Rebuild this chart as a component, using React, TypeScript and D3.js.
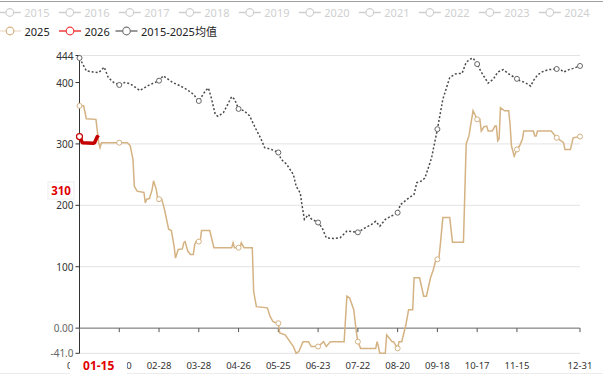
import React from "react";
import * as d3 from "d3";

// ---------- data ----------
const categories: string[] = d3
  .timeDay.range(new Date(2024, 0, 1), new Date(2025, 0, 1))
  .map(d3.timeFormat("%m-%d"));

const xTickLabels = ["01-01", "01-30", "02-28", "03-28", "04-26", "05-25", "06-23", "07-22", "08-20", "09-18", "10-17", "11-15", "12-31"];
const markerDates = ["01-01", "01-30", "02-28", "03-28", "04-26", "05-25", "06-23", "07-22", "08-20", "09-18", "10-17", "11-15", "12-14", "12-31"];
const yTicks = [444, 400, 300, 200, 100, 0, -41];
const yTickLabels = ["444", "400", "300", "200", "100", "0.00", "-41.0"];
const gridValues = [444, 300, 200, 100, -41];

const legendDisabled = ["2015", "2016", "2017", "2018", "2019", "2020", "2021", "2022", "2023", "2024"];
const legendActive = ["2025", "2026", "2015-2025均值"];

type P = [string, number];

const avg: P[] = [
  ["01-01", 440], ["01-06", 419], ["01-11", 417], ["01-15", 416], ["01-19", 425], ["01-22", 408],
  ["01-26", 400], ["01-30", 396], ["02-03", 400], ["02-07", 398], ["02-14", 387], ["02-20", 395],
  ["02-25", 400], ["02-28", 403], ["03-02", 411], ["03-09", 400], ["03-14", 395], ["03-19", 389],
  ["03-24", 381], ["03-28", 370], ["04-02", 387], ["04-04", 391], ["04-06", 376], ["04-09", 348],
  ["04-11", 345], ["04-15", 351], ["04-21", 377], ["04-23", 373], ["04-26", 357], ["04-30", 354],
  ["05-04", 346], ["05-08", 327], ["05-12", 310], ["05-15", 294], ["05-20", 291], ["05-25", 286],
  ["05-27", 275], ["05-31", 267], ["06-05", 250], ["06-07", 231], ["06-10", 220], ["06-11", 204],
  ["06-13", 177], ["06-16", 185], ["06-18", 178], ["06-23", 172], ["06-26", 163], ["06-29", 147],
  ["07-04", 146], ["07-09", 147], ["07-14", 158], ["07-22", 156], ["07-27", 163], ["08-01", 169],
  ["08-04", 174], ["08-07", 166], ["08-11", 177], ["08-15", 182], ["08-20", 188], ["08-22", 201],
  ["08-27", 210], ["09-01", 218], ["09-03", 237], ["09-07", 240], ["09-09", 245], ["09-13", 272],
  ["09-14", 280], ["09-18", 324], ["09-22", 373], ["09-27", 408], ["10-01", 414], ["10-06", 415],
  ["10-09", 433], ["10-12", 438], ["10-14", 440], ["10-17", 430], ["10-20", 417], ["10-25", 399],
  ["10-29", 406], ["11-01", 417], ["11-05", 421], ["11-09", 414], ["11-15", 406], ["11-17", 403],
  ["11-21", 400], ["11-25", 394], ["11-27", 403], ["11-30", 412], ["12-03", 417], ["12-08", 421],
  ["12-14", 422], ["12-17", 421], ["12-19", 417], ["12-23", 421], ["12-26", 423], ["12-31", 427],
];

const y2025: P[] = [
  ["01-01", 362], ["01-04", 362], ["01-06", 341], ["01-13", 340], ["01-15", 302], ["01-16", 294],
  ["01-17", 302], ["01-30", 302], ["02-05", 302], ["02-07", 297], ["02-09", 275], ["02-10", 231],
  ["02-12", 223], ["02-17", 221], ["02-18", 204], ["02-19", 210], ["02-21", 211], ["02-23", 226],
  ["02-24", 240], ["02-26", 226], ["02-27", 211], ["02-28", 210], ["03-01", 210], ["03-03", 193],
  ["03-06", 161], ["03-08", 159], ["03-10", 133], ["03-11", 114], ["03-13", 128], ["03-16", 129],
  ["03-17", 139], ["03-18", 141], ["03-20", 125], ["03-22", 120], ["03-24", 120], ["03-25", 136],
  ["03-26", 141], ["03-28", 141], ["03-29", 141], ["03-30", 159], ["04-05", 159], ["04-08", 131],
  ["04-21", 131], ["04-22", 139], ["04-23", 131], ["04-26", 131], ["04-27", 131], ["04-28", 139],
  ["04-30", 131], ["05-06", 131], ["05-07", 60], ["05-09", 35], ["05-17", 33], ["05-19", 19],
  ["05-21", 11], ["05-24", 8], ["05-25", 8], ["05-26", -8], ["05-30", -11], ["06-05", -30],
  ["06-07", -41], ["06-09", -38], ["06-12", -22], ["06-16", -22], ["06-18", -30], ["06-23", -30],
  ["06-27", -22], ["06-29", -30], ["07-02", -22], ["07-12", -22], ["07-14", 52], ["07-16", 49],
  ["07-19", 30], ["07-21", -8], ["07-22", -22], ["07-24", -33], ["08-04", -33], ["08-05", -22],
  ["08-06", -30], ["08-07", -41], ["08-11", -41], ["08-12", -11], ["08-16", -22], ["08-17", -22],
  ["08-20", -33], ["08-21", -22], ["08-23", -22], ["08-26", 5], ["08-28", 30], ["08-31", 30],
  ["09-01", 82], ["09-05", 82], ["09-08", 52], ["09-10", 52], ["09-13", 82], ["09-15", 95],
  ["09-17", 112], ["09-18", 112], ["09-19", 112], ["09-20", 133], ["09-22", 180], ["09-27", 180],
  ["09-29", 140], ["10-07", 140], ["10-09", 300], ["10-11", 313], ["10-14", 354], ["10-17", 340],
  ["10-19", 340], ["10-20", 321], ["10-22", 328], ["10-24", 329], ["10-25", 321], ["10-28", 321],
  ["10-30", 329], ["10-31", 329], ["11-01", 305], ["11-02", 308], ["11-03", 359], ["11-06", 354],
  ["11-09", 354], ["11-10", 332], ["11-11", 297], ["11-13", 280], ["11-15", 291], ["11-17", 297],
  ["11-19", 308], ["11-20", 321], ["11-27", 321], ["11-28", 313], ["11-29", 313], ["11-30", 321],
  ["12-10", 321], ["12-13", 313], ["12-14", 310], ["12-19", 302], ["12-20", 291], ["12-24", 291],
  ["12-25", 300], ["12-26", 310], ["12-31", 312],
];

const y2026: P[] = [
  ["01-01", 312], ["01-02", 308], ["01-03", 302], ["01-11", 301], ["01-12", 302], ["01-14", 312], ["01-15", 310],
];

const pointerDate = "01-15";
const pointerValue = "310";

// ---------- styles ----------
const C_TAN = "#D5B282";
const C_RED = "#C40000";
const C_RED_LEG = "#F03C3C";
const C_AVG = "#4a4a4a";
const C_DIS = "#cfcfcf";
const FONT = "'Noto Sans', 'Noto Sans CJK SC', sans-serif";

export default function App() {
  const W = 603, H = 375;
  const x = d3.scalePoint<string>().domain(categories).range([79.5, 580]);
  const y = d3.scaleLinear().domain([-41, 444]).range([353.3, 55.5]);
  const line = d3.line<P>().x((d) => x(d[0]) as number).y((d) => y(d[1]));
  const x0 = 79.5, x1 = 580;

  const markers = (data: P[], color: string, r: number) =>
    data
      .filter((d) => markerDates.includes(d[0]))
      .map((d, i) => (
        <circle key={i} cx={x(d[0])} cy={y(d[1])} r={r} fill="#fff" stroke={color} strokeWidth={1} />
      ));

  const legendIcon = (cx: number, cy: number, color: string, lineOpacity = 1) => (
    <g>
      <line x1={cx - 11} x2={cx + 11} y1={cy} y2={cy} stroke={color} strokeWidth={1.5} opacity={lineOpacity} />
      <circle cx={cx} cy={cy} r={3.8} fill="#fff" stroke={color} strokeWidth={1.2} />
    </g>
  );

  const activeColors = [C_TAN, C_RED_LEG, "#777"];
  const activeTextX = [24.5, 84.5, 141];

  return (
    <svg width={W} height={H} style={{ position: "absolute", left: 0, top: 0, fontFamily: FONT }}>
      <rect width={W} height={H} fill="#fff" />
      <line x1={0} x2={W} y1={1.5} y2={1.5} stroke="#a0a0a0" strokeWidth={1.2} />
      <line x1={0} x2={W} y1={373.5} y2={373.5} stroke="#ececec" strokeWidth={1} />

      {/* legend row 1 (disabled) */}
      {legendDisabled.map((name, i) => {
        const tx = 24.3 + 60 * i;
        return (
          <g key={name}>
            {legendIcon(tx - 14.5, 12.5, C_DIS)}
            <text x={tx} y={12.5} fontSize={11} fill={C_DIS} dominantBaseline="central">{name}</text>
          </g>
        );
      })}
      {/* legend row 2 */}
      {legendActive.map((name, i) => {
        const tx = activeTextX[i];
        return (
          <g key={name}>
            {legendIcon(tx - 14.5, 31, activeColors[i], i === 0 ? 0.35 : 1)}
            <text x={tx} y={31} fontSize={11} fill="#222" dominantBaseline="central">{name}</text>
          </g>
        );
      })}

      {/* grid */}
      {gridValues.map((v) => (
        <line key={v} x1={x0} x2={x1} y1={y(v)} y2={y(v)} stroke="#e3e3e3" strokeWidth={1} />
      ))}

      {/* y axis */}
      <line x1={x0} x2={x0} y1={y(444)} y2={y(-41)} stroke="#333" strokeWidth={1} />
      {yTicks.map((v, i) => (
        <g key={v}>
          <line x1={x0 - 4} x2={x0} y1={y(v)} y2={y(v)} stroke="#333" />
          <text x={x0 - 6} y={y(v)} fontSize={10} textAnchor="end" dominantBaseline="central"
            fill={v <= 0 ? "#666" : "#333"}>{yTickLabels[i]}</text>
        </g>
      ))}

      {/* x axis on zero */}
      <line x1={x0} x2={x1} y1={y(0)} y2={y(0)} stroke="#666" strokeWidth={1} />
      {xTickLabels.map((lab) => (
        <g key={lab}>
          <line x1={x(lab)} x2={x(lab)} y1={y(0)} y2={y(0) + 4} stroke="#555" />
          <text x={x(lab)} y={365.5} fontSize={9.5} textAnchor="middle" dominantBaseline="central" fill="#333">{lab}</text>
        </g>
      ))}

      {/* series */}
      <path d={line(avg) || ""} fill="none" stroke={C_AVG} strokeWidth={1.5} strokeDasharray="2,2" />
      <path d={line(y2025) || ""} fill="none" stroke={C_TAN} strokeWidth={1.5} />
      {markers(avg, "#666", 2.5)}
      {markers(y2025, C_TAN, 2.5)}
      <path d={line(y2026) || ""} fill="none" stroke={C_RED} strokeWidth={3.5} strokeLinejoin="round" />
      <circle cx={x(y2026[0][0])} cy={y(y2026[0][1])} r={3} fill="#fff" stroke={C_RED} strokeWidth={1.2} />

      {/* pointer labels */}
      <rect x={48} y={182} width={26} height={17} fill="#fff" stroke="#eee" strokeWidth={1} />
      <text x={61} y={190.5} fontSize={11.5} fontWeight="bold" textAnchor="middle" dominantBaseline="central" fill="#e00000">{pointerValue}</text>
      <rect x={70} y={357} width={57} height={17} fill="#fff" />
      <text x={x(pointerDate)} y={365.5} fontSize={12} fontWeight="bold" textAnchor="middle" dominantBaseline="central" fill="#e00000">{pointerDate}</text>
    </svg>
  );
}
